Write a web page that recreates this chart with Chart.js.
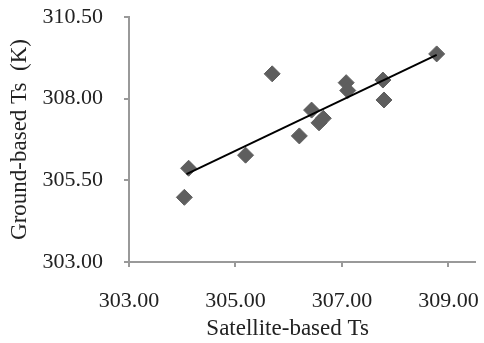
<!DOCTYPE html>
<html>
<head>
<meta charset="utf-8">
<script src="https://cdn.jsdelivr.net/npm/chart.js@4"></script>
<style>
  html, body { margin: 0; padding: 0; background: #fff; }
  #wrap { width: 484px; height: 343px; }
</style>
</head>
<body>
<div id="wrap"><canvas id="chart"></canvas></div>
<script>
// satellite-based Ts (x) vs ground-based Ts (y)
const satelliteTs = [304.04, 304.12, 305.19, 305.69, 306.20, 306.43, 306.57, 306.65, 307.08, 307.11, 307.77, 307.79, 308.78];
const groundTs    = [304.98, 305.87, 306.27, 308.76, 306.86, 307.65, 307.26, 307.40, 308.49, 308.25, 308.57, 307.96, 309.37];

// linear trend line end points
const trendX = [304.08, 308.78];
const trendY = [305.69, 309.34];

const xTicks = [303, 305, 307, 309];
const yTicks = [303, 305.5, 308, 310.5];

const axisColor = '#999';
const textColor = '#222';
const serif = '"Liberation Serif", "Times New Roman", serif';

const points = satelliteTs.map((x, i) => ({ x: x, y: groundTs[i] }));
const trend = trendX.map((x, i) => ({ x: x, y: trendY[i] }));

new Chart(document.getElementById('chart').getContext('2d'), {
  type: 'scatter',
  data: {
    datasets: [
      {
        label: 'Ts',
        data: points,
        pointStyle: 'rectRot',
        pointRadius: 8,
        backgroundColor: '#5e5e5e',
        borderColor: '#5e5e5e',
        borderWidth: 1,
        order: 2
      },
      {
        label: 'Linear',
        data: trend,
        showLine: true,
        pointRadius: 0,
        borderColor: '#000',
        borderWidth: 2,
        order: 1
      }
    ]
  },
  options: {
    responsive: true,
    maintainAspectRatio: false,
    animation: false,
    layout: {
      padding: { top: 17, right: 6, bottom: 0, left: 0 }
    },
    plugins: {
      legend: { display: false },
      tooltip: { enabled: false }
    },
    scales: {
      x: {
        type: 'linear',
        min: 303,
        max: 309.5,
        afterBuildTicks: axis => { axis.ticks = xTicks.map(v => ({ value: v })); },
        afterFit: scale => {
          scale.height = 81;
          scale.paddingLeft = 0;
          scale.paddingRight = 0;
        },
        border: { color: axisColor, width: 2 },
        grid: { drawOnChartArea: false, drawTicks: true, tickLength: 5, color: axisColor, lineWidth: 2 },
        ticks: {
          padding: 21,
          color: textColor,
          font: { family: serif, size: 22 },
          maxRotation: 0,
          callback: v => Number(v).toFixed(2)
        },
        title: {
          display: true,
          text: 'Satellite-based Ts     ',
          color: textColor,
          font: { family: serif, size: 23 },
          padding: { top: 0, bottom: 0 }
        }
      },
      y: {
        type: 'linear',
        min: 303,
        max: 310.5,
        afterBuildTicks: axis => { axis.ticks = yTicks.map(v => ({ value: v })); },
        afterFit: scale => {
          scale.width = 129;
          scale.paddingTop = 0;
          scale.paddingBottom = 0;
        },
        border: { color: axisColor, width: 2 },
        grid: { drawOnChartArea: false, drawTicks: true, tickLength: 5, color: axisColor, lineWidth: 2 },
        ticks: {
          padding: 21,
          color: textColor,
          font: { family: serif, size: 22 },
          callback: v => Number(v).toFixed(2)
        },
        title: {
          display: true,
          text: 'Ground-based Ts  (K)',
          color: textColor,
          font: { family: serif, size: 23 },
          padding: { top: 6, bottom: 0 }
        }
      }
    }
  }
});
</script>
</body>
</html>
